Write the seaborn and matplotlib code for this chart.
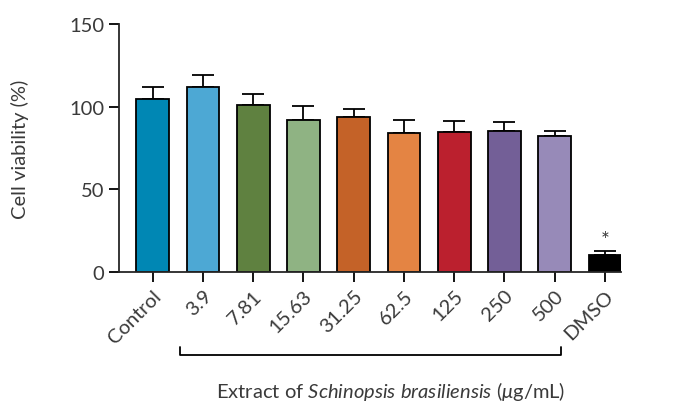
import numpy as np
import pandas as pd
import seaborn as sns
import matplotlib.pyplot as plt
from matplotlib.transforms import blended_transform_factory

# values
groups = ['Control', '3.9', '7.81', '15.63', '31.25', '62.5', '125', '250', '500', 'DMSO']
viability = [104.8, 112.2, 101.0, 92.3, 93.9, 84.4, 85.0, 85.6, 82.4, 10.3]
sem = [7.0, 6.9, 7.0, 8.2, 5.0, 7.3, 6.1, 5.1, 3.0, 2.4]
colors = ['#0087b4', '#4da8d4', '#5f8140', '#8fb383', '#c46228',
          '#e48443', '#bb202e', '#735f97', '#978ab8', '#000000']


def main():
    sns.set_style('ticks')
    plt.rcParams['font.family'] = ['Lato', 'DejaVu Sans']
    plt.rcParams['mathtext.fontset'] = 'custom'
    plt.rcParams['mathtext.rm'] = 'Lato'
    plt.rcParams['mathtext.it'] = 'Lato:italic'
    text_color = '#3a3a3a'

    data = pd.DataFrame({'group': groups, 'viability': viability})

    fig = plt.figure(figsize=(6.74, 4.06), dpi=100)
    ax = fig.add_axes([0.1766, 0.3276, 0.7448, 0.6104])

    # error bars (upper only) drawn behind the bars
    x = np.arange(len(groups))
    ax.errorbar(x, viability, yerr=[np.zeros(len(sem)), sem], fmt='none',
                ecolor='black', elinewidth=1.3, capsize=8, capthick=1.3, zorder=1)

    sns.barplot(data=data, x='group', y='viability', hue='group', palette=colors,
                legend=False, width=0.65, edgecolor='black', linewidth=1.3,
                saturation=1, ax=ax, zorder=2)

    # significance marker above DMSO
    ax.text(x[-1], viability[-1] + sem[-1] + 0.5, '*', ha='center', va='bottom',
            fontsize=15, color=text_color)

    ax.set_ylim(0, 150)
    ax.set_yticks([0, 50, 100, 150])
    ax.set_xlim(-0.67, len(groups) - 1 + 0.32)
    sns.despine(ax=ax)
    ax.spines['left'].set_linewidth(1.3)
    ax.spines['bottom'].set_linewidth(1.3)
    ax.tick_params(axis='both', length=7, width=1.3, labelsize=14.5,
                   labelcolor=text_color, color='black')
    plt.setp(ax.get_xticklabels(), rotation=45, ha='right', rotation_mode='anchor')

    ax.set_xlabel('')
    ax.set_ylabel('Cell viability (%)', fontsize=14.5, color=text_color, labelpad=29)

    # bracket under the extract concentrations
    trans = blended_transform_factory(ax.transData, fig.transFigure)
    bx = [x[1] - 0.46, x[1] - 0.46, x[8] + 0.12, x[8] + 0.12]
    by = [0.143, 0.123, 0.123, 0.143]
    fig.add_artist(plt.Line2D(bx, by, transform=trans, color='black', lw=1.3))

    fig.text(0.579, 0.02,
             r'Extract of $\it{Schinopsis\ brasiliensis}$ ($\mu$g/mL)',
             ha='center', va='baseline', fontsize=14.5, color=text_color)

    fig.savefig('out.png', dpi=100)


if __name__ == '__main__':
    main()
